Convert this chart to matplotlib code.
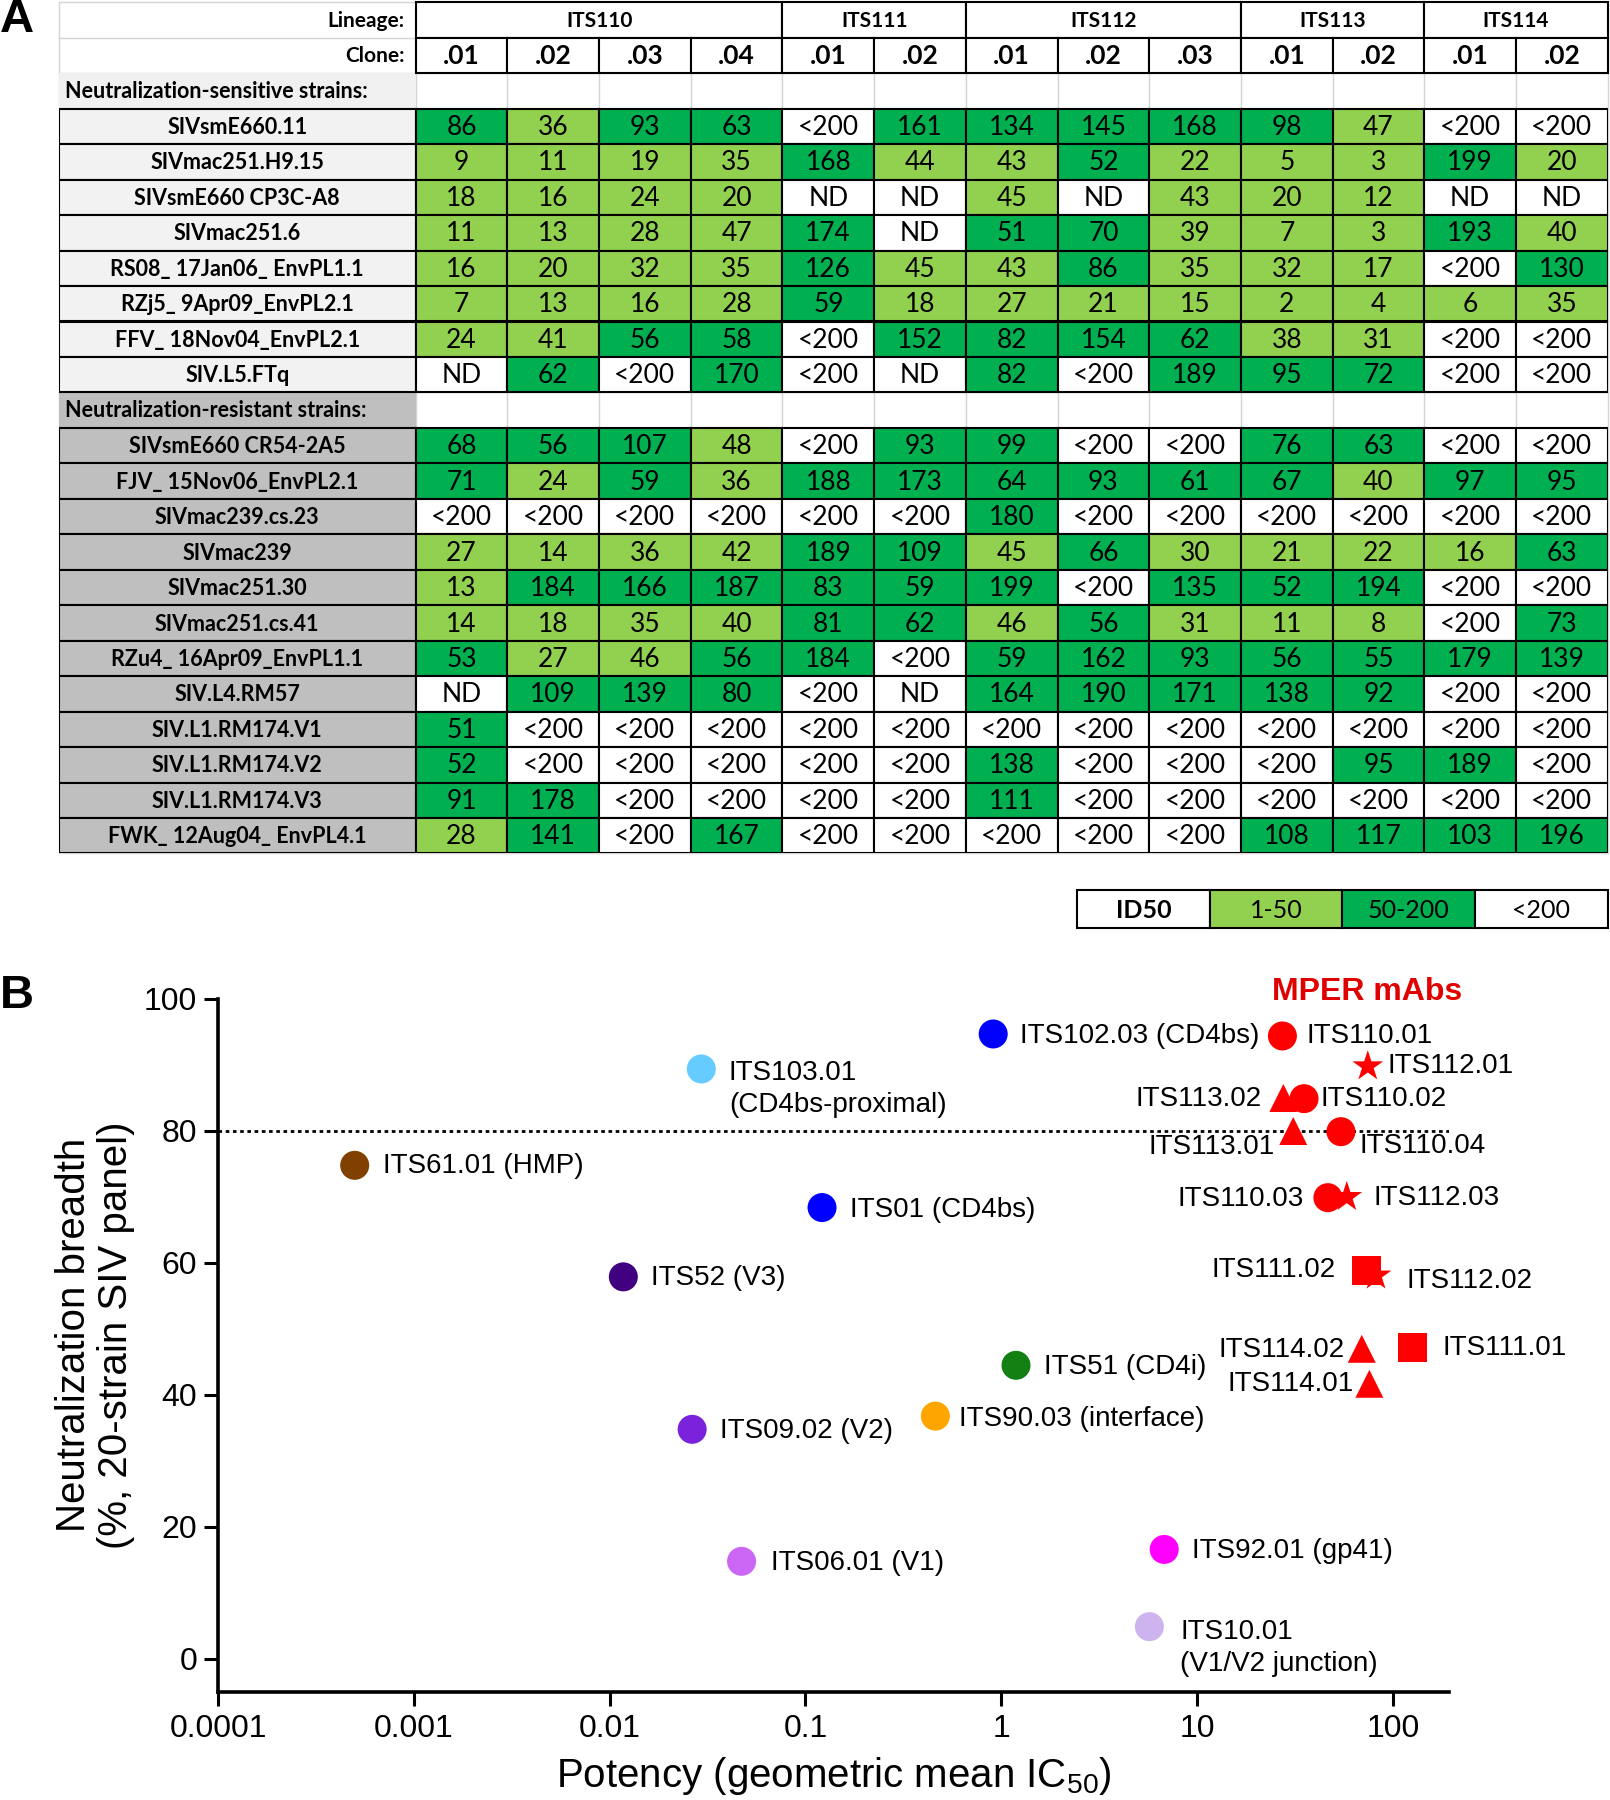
import matplotlib
matplotlib.use("Agg")
import matplotlib.pyplot as plt
from matplotlib.patches import Rectangle
from matplotlib.ticker import NullLocator, FixedLocator, FixedFormatter

# ---------------- Panel A data ----------------
lineages = ["ITS110", "ITS111", "ITS112", "ITS113", "ITS114"]
lineage_clones = [[".01", ".02", ".03", ".04"], [".01", ".02"],
                  [".01", ".02", ".03"], [".01", ".02"], [".01", ".02"]]

sensitive_strains = ["SIVsmE660.11", "SIVmac251.H9.15", "SIVsmE660 CP3C-A8", "SIVmac251.6",
                     "RS08_ 17Jan06_ EnvPL1.1", "RZj5_ 9Apr09_EnvPL2.1",
                     "FFV_ 18Nov04_EnvPL2.1", "SIV.L5.FTq"]
sensitive_values = [
    ["86", "36", "93", "63", "<200", "161", "134", "145", "168", "98", "47", "<200", "<200"],
    ["9", "11", "19", "35", "168", "44", "43", "52", "22", "5", "3", "199", "20"],
    ["18", "16", "24", "20", "ND", "ND", "45", "ND", "43", "20", "12", "ND", "ND"],
    ["11", "13", "28", "47", "174", "ND", "51", "70", "39", "7", "3", "193", "40"],
    ["16", "20", "32", "35", "126", "45", "43", "86", "35", "32", "17", "<200", "130"],
    ["7", "13", "16", "28", "59", "18", "27", "21", "15", "2", "4", "6", "35"],
    ["24", "41", "56", "58", "<200", "152", "82", "154", "62", "38", "31", "<200", "<200"],
    ["ND", "62", "<200", "170", "<200", "ND", "82", "<200", "189", "95", "72", "<200", "<200"],
]

resistant_strains = ["SIVsmE660 CR54-2A5", "FJV_ 15Nov06_EnvPL2.1", "SIVmac239.cs.23", "SIVmac239",
                     "SIVmac251.30", "SIVmac251.cs.41", "RZu4_ 16Apr09_EnvPL1.1", "SIV.L4.RM57",
                     "SIV.L1.RM174.V1", "SIV.L1.RM174.V2", "SIV.L1.RM174.V3",
                     "FWK_ 12Aug04_ EnvPL4.1"]
resistant_values = [
    ["68", "56", "107", "48", "<200", "93", "99", "<200", "<200", "76", "63", "<200", "<200"],
    ["71", "24", "59", "36", "188", "173", "64", "93", "61", "67", "40", "97", "95"],
    ["<200", "<200", "<200", "<200", "<200", "<200", "180", "<200", "<200", "<200", "<200", "<200", "<200"],
    ["27", "14", "36", "42", "189", "109", "45", "66", "30", "21", "22", "16", "63"],
    ["13", "184", "166", "187", "83", "59", "199", "<200", "135", "52", "194", "<200", "<200"],
    ["14", "18", "35", "40", "81", "62", "46", "56", "31", "11", "8", "<200", "73"],
    ["53", "27", "46", "56", "184", "<200", "59", "162", "93", "56", "55", "179", "139"],
    ["ND", "109", "139", "80", "<200", "ND", "164", "190", "171", "138", "92", "<200", "<200"],
    ["51", "<200", "<200", "<200", "<200", "<200", "<200", "<200", "<200", "<200", "<200", "<200", "<200"],
    ["52", "<200", "<200", "<200", "<200", "<200", "138", "<200", "<200", "<200", "95", "189", "<200"],
    ["91", "178", "<200", "<200", "<200", "<200", "111", "<200", "<200", "<200", "<200", "<200", "<200"],
    ["28", "141", "<200", "167", "<200", "<200", "<200", "<200", "<200", "108", "117", "103", "196"],
]
legend_labels = ["ID50", "1-50", "50-200", "<200"]

# ---------------- Panel B data ----------------
ref_names = ["ITS103.01\n(CD4bs-proximal)", "ITS61.01 (HMP)", "ITS01 (CD4bs)", "ITS52 (V3)",
             "ITS102.03 (CD4bs)", "ITS09.02 (V2)", "ITS06.01 (V1)", "ITS51 (CD4i)",
             "ITS90.03 (interface)", "ITS92.01 (gp41)", "ITS10.01\n(V1/V2 junction)"]
ref_potency = [0.0294, 0.000499, 0.1216, 0.01175, 0.91, 0.0264, 0.0472, 1.19, 0.461, 6.8, 5.71]
ref_breadth = [89.4, 74.8, 68.4, 57.9, 94.7, 34.8, 14.8, 44.5, 36.8, 16.6, 4.9]

mper_names = ["ITS110.01", "ITS112.01", "ITS113.02", "ITS110.02", "ITS113.01", "ITS110.04",
              "ITS110.03", "ITS112.03", "ITS111.02", "ITS112.02", "ITS114.02", "ITS111.01",
              "ITS114.01"]
mper_potency = [27.3, 74.5, 27.6, 35.2, 31.0, 54.3, 46.6, 58.2, 73.6, 82.1, 69.4, 126.5, 75.9]
mper_breadth = [94.4, 89.8, 85.0, 84.9, 80.0, 79.9, 69.9, 70.0, 58.9, 58.1, 47.0, 47.2, 41.7]

# ---------------- styles ----------------
ref_colors = ["#66ccff", "#804000", "#0000ff", "#400080", "#0000ff", "#7a22dc", "#cc66f5",
              "#138013", "#ffa500", "#ff00ff", "#cdb4ee"]
# label offsets (pixels: right, down)
ref_offsets = [(27.6, 20), (28.7, 1), (27.6, 2), (27.6, 1), (26.4, 2), (27.6, 2), (29.9, 2),
               (27.6, 2), (24, 3), (27.6, 2), (31, 21)]
mper_markers = ["o", "*", "^", "o", "^", "o", "o", "*", "s", "*", "^", "s", "^"]
mper_offsets = [(24, 0), (19.6, 0), (-21.6, 1), (16.7, 0), (-18.3, 16), (18.3, 14),
                (-24.4, 1), (26.6, 1), (-30.7, 0), (30.7, 5), (-16.7, 1), (30, 1), (-16, 0)]
marker_area = {"o": 436, "*": 540, "^": 406, "s": 436}

LIGHT = "#92d050"
DARK = "#00b050"
SENS_GRAY = "#f2f2f2"
RES_GRAY = "#bfbfbf"
GRID = "#d4d4d4"
RED = "#ff0000"

TFONT = ["Lato", "DejaVu Sans"]
plt.rcParams["font.family"] = ["Liberation Sans", "DejaVu Sans"]
plt.rcParams["mathtext.fontset"] = "custom"
plt.rcParams["mathtext.rm"] = "Liberation Sans"
plt.rcParams["mathtext.it"] = "Liberation Sans:italic"


def cell_color(v):
    if v in ("<200", "ND"):
        return "white"
    return LIGHT if float(v) <= 50 else DARK


FW, FH = 1610, 1800
fig = plt.figure(figsize=(FW / 100, FH / 100), dpi=100)

# ---------------- Panel A ----------------
x0, x1, y0, y1 = 58.6, 1607.7, 2.3, 853.5
ncols = sum(len(c) for c in lineage_clones)
colw = (x1 - 415.7) / ncols
WL = (415.7 - x0) / colw
nrows = 2 + 1 + len(sensitive_strains) + 1 + len(resistant_strains)
axT = fig.add_axes([x0 / FW, 1 - y1 / FH, (x1 - x0) / FW, (y1 - y0) / FH])
axT.set_xlim(-WL, ncols)
axT.set_ylim(nrows, 0)
axT.axis("off")

LW = 1.5
for r in range(nrows + 1):
    axT.plot([-WL, ncols], [r, r], color=GRID, lw=1.0, zorder=0.5, clip_on=False)
for c in [-WL] + list(range(ncols + 1)):
    axT.plot([c, c], [0, nrows], color=GRID, lw=1.0, zorder=0.5, clip_on=False)

axT.text(-0.12, 0.52, "Lineage:", ha="right", va="center", fontsize=15, fontweight="bold", family=TFONT)
axT.text(-0.12, 1.52, "Clone:", ha="right", va="center", fontsize=15, fontweight="bold", family=TFONT)
start = 0
for lin, clones in zip(lineages, lineage_clones):
    n = len(clones)
    axT.add_patch(Rectangle((start, 0), n, 1, facecolor="white", edgecolor="black", lw=LW, zorder=2, clip_on=False))
    axT.text(start + n / 2, 0.52, lin, ha="center", va="center", fontsize=15, fontweight="bold", family=TFONT, zorder=3)
    for j, cl in enumerate(clones):
        axT.add_patch(Rectangle((start + j, 1), 1, 1, facecolor="white", edgecolor="black", lw=LW, zorder=2, clip_on=False))
        axT.text(start + j + 0.5, 1.52, cl, ha="center", va="center", fontsize=19, fontweight="bold", family=TFONT, zorder=3)
    start += n


def draw_section(row, title, bg):
    axT.add_patch(Rectangle((-WL, row), WL, 1, facecolor=bg, edgecolor="none", zorder=1))
    axT.text(-WL + 0.07, row + 0.52, title, ha="left", va="center", fontsize=15.5, fontweight="bold", family=TFONT, zorder=3)


def draw_rows(row0, strains, values, bg):
    for i, (s, vals) in enumerate(zip(strains, values)):
        r = row0 + i
        axT.add_patch(Rectangle((-WL, r), WL, 1, facecolor=bg, edgecolor="black", lw=LW, zorder=2))
        axT.text(-WL / 2, r + 0.53, s, ha="center", va="center", fontsize=15.5, fontweight="bold", family=TFONT, zorder=3)
        for c, v in enumerate(vals):
            axT.add_patch(Rectangle((c, r), 1, 1, facecolor=cell_color(v), edgecolor="black", lw=LW, zorder=2))
            axT.text(c + 0.5, r + 0.53, v, ha="center", va="center", fontsize=19, family=TFONT, zorder=3)


draw_section(2, "Neutralization-sensitive strains:", "#f0f0f0")
draw_rows(3, sensitive_strains, sensitive_values, SENS_GRAY)
r_res = 3 + len(sensitive_strains)
draw_section(r_res, "Neutralization-resistant strains:", RES_GRAY)
draw_rows(r_res + 1, resistant_strains, resistant_values, RES_GRAY)

# legend
leg_faces = ["white", LIGHT, DARK, "white"]
lw_cell = (ncols - 7.215) / len(legend_labels)
ly0 = (890 - y0) / ((y1 - y0) / nrows)
ly1 = (928 - y0) / ((y1 - y0) / nrows)
for i, (lab, fc) in enumerate(zip(legend_labels, leg_faces)):
    lx = 7.215 + i * lw_cell
    axT.add_patch(Rectangle((lx, ly0), lw_cell, ly1 - ly0, facecolor=fc, edgecolor="black", lw=LW, zorder=2, clip_on=False))
    axT.text(lx + lw_cell / 2, (ly0 + ly1) / 2 + 0.03, lab, ha="center", va="center", fontsize=18,
             fontweight="bold" if i == 0 else "normal", family=TFONT, zorder=3, clip_on=False)

# ---------------- Panel B ----------------
axB = fig.add_axes([218 / FW, 1 - 1692 / FH, (1449 - 218) / FW, (1692 - 999) / FH])
axB.set_xscale("log")
axB.set_xlim(1e-4, 193.6)
axB.set_ylim(-5, 100)
for sp in ["top", "right"]:
    axB.spines[sp].set_visible(False)
for sp in ["left", "bottom"]:
    axB.spines[sp].set_linewidth(2.6)
xt = [1e-4, 1e-3, 1e-2, 1e-1, 1, 10, 100]
axB.xaxis.set_major_locator(FixedLocator(xt))
axB.xaxis.set_major_formatter(FixedFormatter(["0.0001", "0.001", "0.01", "0.1", "1", "10", "100"]))
axB.xaxis.set_minor_locator(NullLocator())
axB.set_yticks([0, 20, 40, 60, 80, 100])
axB.tick_params(axis="both", which="major", length=10, width=2.2, labelsize=23, pad=5)
axB.tick_params(axis="x", pad=6)

axB.axhline(80, color="black", lw=2, linestyle=(0, (1.3, 1.3)), zorder=1)

axB.set_xlabel("Potency (geometric mean IC$_{50}$)", fontsize=29, labelpad=8)
fig.text(95 / FW, 1 - 1335 / FH, "Neutralization breadth\n(%, 20-strain SIV panel)", rotation=90,
         ha="center", va="center", fontsize=29, linespacing=1.12, multialignment="center")

K = 0.72  # px -> pt at 100 dpi
for name, xv, yv, col, (dx, dy) in zip(ref_names, ref_potency, ref_breadth, ref_colors, ref_offsets):
    axB.scatter([xv], [yv], s=marker_area["o"], c=col, marker="o", edgecolors="none", zorder=3, clip_on=False)
    axB.annotate(name, (xv, yv), xytext=(dx * K, -dy * K), textcoords="offset points",
                 ha="left", va="center", fontsize=20, linespacing=1.3)

for name, xv, yv, mk, (dx, dy) in zip(mper_names, mper_potency, mper_breadth, mper_markers, mper_offsets):
    axB.scatter([xv], [yv], s=marker_area[mk], c=RED, marker=mk, edgecolors="none", zorder=3, clip_on=False)
    axB.annotate(name, (xv, yv), xytext=(dx * K, -dy * K), textcoords="offset points",
                 ha="left" if dx > 0 else "right", va="center", fontsize=20)

fig.text(1367 / FW, 1 - 992 / FH, "MPER mAbs", color="#e00000", fontsize=23, fontweight="bold",
         ha="center", va="center")

fig.text(0 / FW, 1 - 20 / FH, "A", fontsize=34, fontweight="bold", ha="left", va="center")
fig.text(0 / FW, 1 - 996 / FH, "B", fontsize=34, fontweight="bold", ha="left", va="center")

fig.savefig("out.png", dpi=100, facecolor="white")
